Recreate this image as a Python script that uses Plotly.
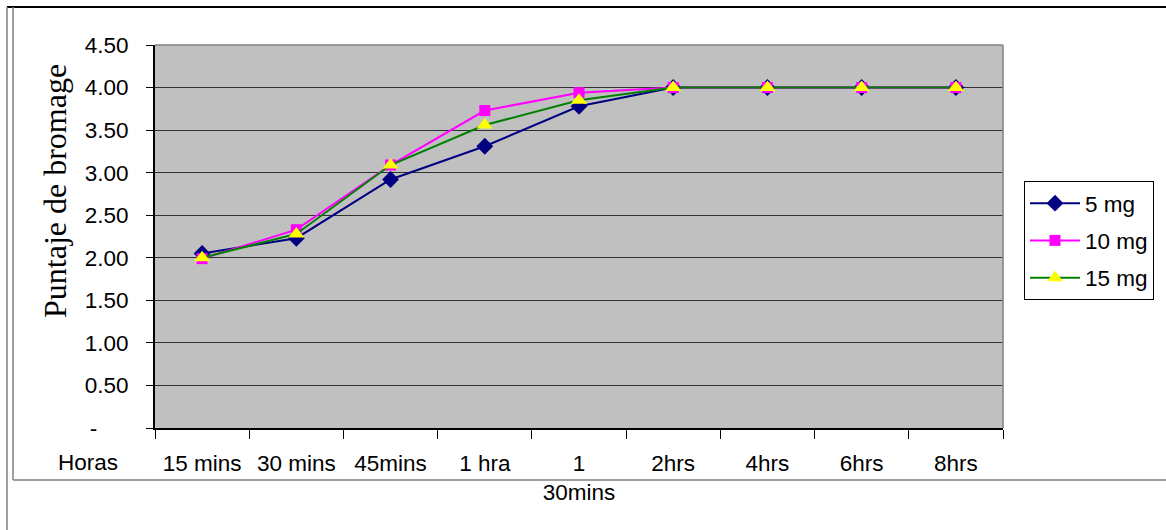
import plotly.graph_objects as go

# Bromage score over time for three doses
categories = ["15 mins", "30 mins", "45mins", "1 hra", "1<br>30mins",
              "2hrs", "4hrs", "6hrs", "8hrs"]
dose_5mg = [2.05, 2.23, 2.92, 3.31, 3.78, 4.00, 4.00, 4.00, 4.00]
dose_10mg = [1.99, 2.33, 3.09, 3.73, 3.94, 4.00, 4.00, 4.00, 4.00]
dose_15mg = [2.00, 2.28, 3.09, 3.56, 3.85, 4.00, 4.00, 4.00, 4.00]

y_ticks = [0, 0.5, 1.0, 1.5, 2.0, 2.5, 3.0, 3.5, 4.0, 4.5]
y_ticktext = ["-" + "\u00a0" * 5] + [f"{v:.2f}" for v in y_ticks[1:]]

W, H = 1166, 530
ML, MR, MT, MB = 155, 163, 45, 102
PW, PH = W - ML - MR, H - MT - MB


def px_x(x):
    return (x - ML) / PW


def px_y(y):
    return (H - MB - y) / PH


SANS = "Liberation Sans, Arial, sans-serif"
SERIF = "Liberation Serif, Times New Roman, serif"
FS = 22.5

series = [
    ("5 mg", dose_5mg, "#000080", "diamond", "#000080", 13),
    ("10 mg", dose_10mg, "#FF00FF", "square", "#FF00FF", 11),
    ("15 mg", dose_15mg, "#008000", "triangle-up", "#FFFF00", 14),
]

fig = go.Figure()
for name, vals, lcol, sym, mcol, msize in series:
    fig.add_trace(go.Scatter(
        x=categories, y=vals, name=name, mode="lines+markers",
        legendgroup=name,
        line=dict(color=lcol, width=2),
        marker=dict(symbol=sym, color=mcol, size=msize, line=dict(width=0)),
    ))

shapes = [
    # plot-area border (top and right)
    dict(type="line", xref="paper", yref="paper", x0=0, x1=1, y0=1, y1=1,
         line=dict(color="#808080", width=1.5)),
    dict(type="line", xref="paper", yref="paper", x0=1, x1=1, y0=0, y1=1,
         line=dict(color="#808080", width=1.5)),
    # outer frame
    dict(type="line", xref="paper", yref="paper", x0=px_x(7), x1=px_x(W + 5),
         y0=px_y(7), y1=px_y(7), line=dict(color="black", width=2)),
    dict(type="line", xref="paper", yref="paper", x0=px_x(7), x1=px_x(7),
         y0=px_y(7), y1=px_y(H + 5), line=dict(color="#808080", width=1.5)),
    dict(type="line", xref="paper", yref="paper", x0=px_x(13), x1=px_x(13),
         y0=px_y(7), y1=px_y(480), line=dict(color="#808080", width=1.5)),
    dict(type="line", xref="paper", yref="paper", x0=px_x(13), x1=px_x(W + 5),
         y0=px_y(480), y1=px_y(480), line=dict(color="#808080", width=1.5)),
]

annotations = [
    dict(text="Horas", xref="paper", yref="paper", x=px_x(88), y=px_y(463),
         xanchor="center", yanchor="middle", showarrow=False,
         font=dict(family=SANS, size=FS, color="black")),
    dict(text="Puntaje de bromage", xref="paper", yref="paper",
         x=px_x(55), y=px_y(191), xanchor="center", yanchor="middle",
         textangle=-90, showarrow=False,
         font=dict(family=SERIF, size=32, color="black")),
]

fig.update_layout(
    width=W, height=H,
    margin=dict(l=ML, r=MR, t=MT, b=MB, pad=0),
    paper_bgcolor="white",
    plot_bgcolor="#C0C0C0",
    font=dict(family=SANS, size=FS, color="black"),
    shapes=shapes,
    annotations=annotations,
    legend=dict(
        x=px_x(1024), y=px_y(181), xanchor="left", yanchor="top",
        bordercolor="black", borderwidth=1, bgcolor="white",
        font=dict(family=SANS, size=FS, color="black"),
        traceorder="grouped", tracegroupgap=5, itemwidth=50,
    ),
    xaxis=dict(
        type="category", range=[-0.5, 8.5], tickson="boundaries",
        ticks="outside", ticklen=9, tickcolor="black", tickwidth=1,
        showline=True, linecolor="black", linewidth=2,
        showgrid=False, zeroline=False, automargin=False,
        ticklabelstandoff=14,
        tickfont=dict(family=SANS, size=FS, color="black"),
    ),
    yaxis=dict(
        range=[0, 4.5], tickvals=y_ticks, ticktext=y_ticktext,
        ticks="outside", ticklen=7, tickcolor="black", tickwidth=1,
        showline=True, linecolor="black", linewidth=2,
        showgrid=True, gridcolor="#303030", gridwidth=1,
        zeroline=False, automargin=False,
        ticklabelstandoff=13,
        tickfont=dict(family=SANS, size=FS, color="black"),
    ),
)

fig.write_html("out.html")
